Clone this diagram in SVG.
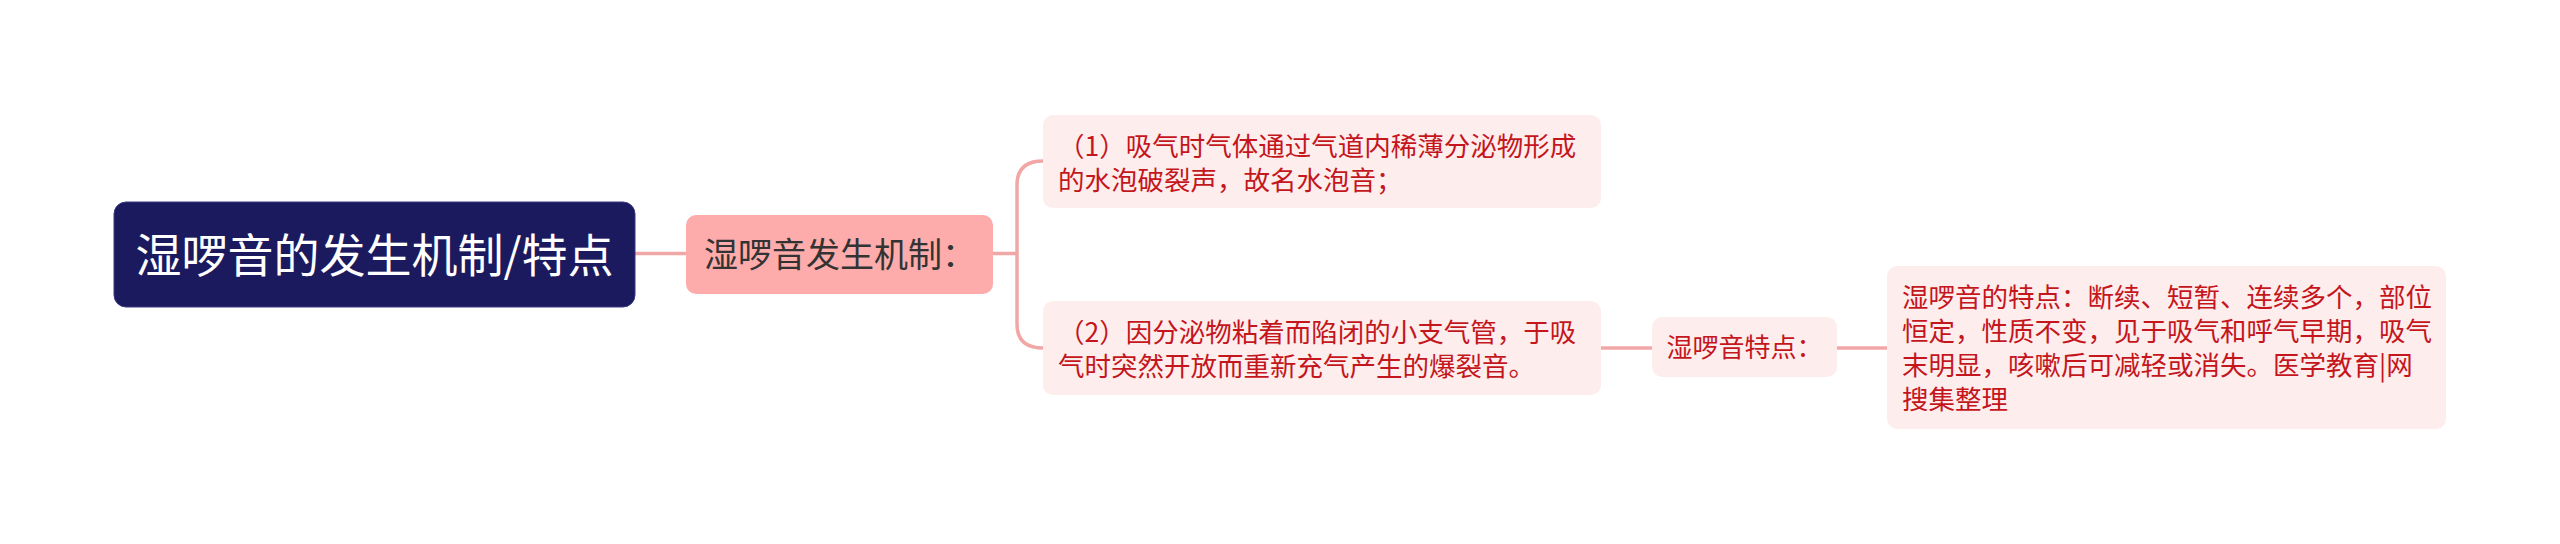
<svg xmlns="http://www.w3.org/2000/svg" width="2560" height="544" viewBox="0 0 2560 544">
<style>
.t{font-family:"Noto Sans CJK SC","Noto Sans",sans-serif;}
.leaf{fill:#fdeded;}
.red{fill:#c4161c;font-size:26.5px;}
.ln{fill:none;stroke:#f2a7a7;stroke-width:3.5;}
</style>
<rect width="2560" height="544" fill="#ffffff"/>
<g id="connectors">
<path class="ln" d="M635,253.5 H686"/>
<path class="ln" d="M993,253.5 H1017"/>
<path class="ln" d="M1043,161 Q1017,161 1017,185 V324 Q1017,348 1043,348"/>
<path class="ln" d="M1601,348 H1652"/>
<path class="ln" d="M1837,348 H1887"/>
</g>
<g id="root">
<rect x="114" y="202" width="521" height="105" rx="12" fill="#1c1a5e" stroke="#3a3880" stroke-width="1"/>
<text class="t" x="374.5" y="272" font-size="46" fill="#ffffff" text-anchor="middle">湿啰音的发生机制/特点</text>
</g>
<g id="mechanism">
<rect x="686" y="215" width="307" height="79" rx="10" fill="#fdabab"/>
<text class="t" x="840" y="267" font-size="34" fill="#333333" text-anchor="middle">湿啰音发生机制：</text>
</g>
<g id="point1">
<rect class="leaf" x="1043" y="115" width="558" height="93" rx="10"/>
<text class="t red" x="1058" y="156">（1）吸气时气体通过气道内稀薄分泌物形成</text>
<text class="t red" x="1058" y="190">的水泡破裂声，故名水泡音；</text>
</g>
<g id="point2">
<rect class="leaf" x="1043" y="301" width="558" height="94" rx="10"/>
<text class="t red" x="1058" y="342">（2）因分泌物粘着而陷闭的小支气管，于吸</text>
<text class="t red" x="1058" y="376">气时突然开放而重新充气产生的爆裂音。</text>
</g>
<g id="features-label">
<rect class="leaf" x="1652" y="317" width="185" height="60" rx="10"/>
<text class="t" x="1744.5" y="357" font-size="26" fill="#c4161c" text-anchor="middle">湿啰音特点：</text>
</g>
<g id="features">
<rect class="leaf" x="1887" y="266" width="559" height="163" rx="10"/>
<text class="t red" x="1902" y="307">湿啰音的特点：断续、短暂、连续多个，部位</text>
<text class="t red" x="1902" y="341">恒定，性质不变，见于吸气和呼气早期，吸气</text>
<text class="t red" x="1902" y="375">末明显，咳嗽后可减轻或消失。医学教育|网</text>
<text class="t red" x="1902" y="409">搜集整理</text>
</g>
</svg>
